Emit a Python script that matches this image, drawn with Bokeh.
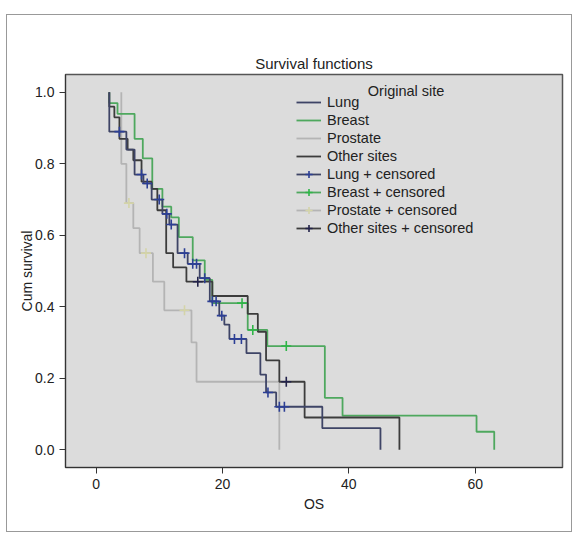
import numpy as np
from bokeh.plotting import figure
from bokeh.models import Range1d, FixedTicker, Legend, LegendItem, Label, PrintfTickFormatter
from bokeh.embed import file_html
from bokeh.resources import INLINE

FONT = "Liberation Sans"

title_text = "Survival functions"
legend_title = "Original site"
x_label = "OS"
y_label = "Cum survival"
groups = ["Lung", "Breast", "Prostate", "Other sites"]

# Kaplan-Meier step data (event times, survival after each event)
lung_t = [2.1, 4.8, 6.1, 7.5, 8.8, 10.5, 11.6, 12.9, 14.5, 16.4, 18.0, 19.5, 20.3, 21.1, 23.8, 26.0, 26.9, 28.5, 35.8, 45.0]
lung_s = [0.89, 0.84, 0.77, 0.745, 0.70, 0.66, 0.63, 0.55, 0.52, 0.48, 0.415, 0.375, 0.35, 0.31, 0.27, 0.21, 0.16, 0.12, 0.06, 0.0]
lung_ct = [3.7, 7.2, 8.1, 10.0, 11.2, 11.9, 14.0, 15.3, 15.9, 17.2, 18.4, 19.0, 19.9, 21.9, 23.0, 27.2, 29.0, 29.8]
lung_cs = [0.89, 0.77, 0.745, 0.70, 0.66, 0.63, 0.55, 0.52, 0.52, 0.48, 0.415, 0.415, 0.375, 0.31, 0.31, 0.16, 0.12, 0.12]

breast_t = [2.1, 3.4, 6.1, 7.4, 8.9, 10.5, 11.9, 13.1, 15.3, 17.2, 18.4, 24.0, 27.1, 36.2, 39.0, 60.2, 63.0]
breast_s = [0.97, 0.94, 0.87, 0.815, 0.73, 0.68, 0.65, 0.595, 0.53, 0.475, 0.41, 0.335, 0.29, 0.145, 0.095, 0.05, 0.0]
breast_ct = [23.1, 24.8, 30.1]
breast_cs = [0.41, 0.335, 0.29]

prostate_t = [4.0, 4.8, 5.9, 6.9, 9.0, 10.8, 15.1, 15.9, 29.0]
prostate_s = [0.80, 0.69, 0.62, 0.55, 0.47, 0.39, 0.30, 0.19, 0.0]
prostate_ct = [5.2, 7.9, 14.0]
prostate_cs = [0.69, 0.55, 0.39]

other_t = [2.1, 2.9, 3.7, 5.0, 5.9, 7.2, 8.8, 9.7, 11.1, 12.2, 14.3, 18.4, 24.0, 25.6, 26.9, 29.0, 33.0, 48.0]
other_s = [0.96, 0.93, 0.87, 0.84, 0.81, 0.75, 0.73, 0.67, 0.55, 0.51, 0.47, 0.43, 0.38, 0.33, 0.25, 0.19, 0.09, 0.0]
other_ct = [16.1, 30.1]
other_cs = [0.47, 0.19]

x_ticks = [0, 20, 40, 60]
y_ticks = [0.0, 0.2, 0.4, 0.6, 0.8, 1.0]


def km_path(times, surv, start=1.0):
    xs, ys = [], []
    prev = start
    for t, s in zip(times, surv):
        xs += [t, t]
        ys += [prev, s]
        prev = s
    return xs, ys


p = figure(width=566, height=518,
           x_range=Range1d(-4.83, 73.8), y_range=Range1d(-0.05, 1.05),
           output_backend="svg", toolbar_location=None,
           min_border_left=58, min_border_right=11, min_border_top=59, min_border_bottom=66,
           background_fill_color="#dcdcdc", border_fill_color="white")
p.styles = {"border": "1px solid #999999"}
p.margin = (14, 0, 0, 6)

p.title.text = title_text
p.title.align = "center"
p.title.text_font = FONT
p.title.text_font_size = "15px"
p.title.text_font_style = "normal"
p.title.text_color = "#222222"
p.title.standoff = 6

p.outline_line_color = "#555555"
p.outline_line_width = 1.5
p.xgrid.visible = False
p.ygrid.visible = False

for ax in (p.xaxis[0], p.yaxis[0]):
    ax.axis_line_color = "#333333"
    ax.major_tick_line_color = "#333333"
    ax.major_tick_out = 6
    ax.major_tick_in = 0
    ax.minor_tick_line_color = None
    ax.major_label_text_font = FONT
    ax.major_label_text_font_size = "14px"
    ax.major_label_text_color = "#222222"
    ax.axis_label_text_font = FONT
    ax.axis_label_text_font_size = "14px"
    ax.axis_label_text_font_style = "normal"
    ax.axis_label_text_color = "#222222"

p.xaxis.ticker = FixedTicker(ticks=x_ticks)
p.yaxis.ticker = FixedTicker(ticks=y_ticks)
p.yaxis.formatter = PrintfTickFormatter(format="%.1f")
p.xaxis.axis_label = x_label
p.yaxis.axis_label = y_label
p.xaxis.axis_label_standoff = 4
p.yaxis.axis_label_standoff = -3

series = {
    "Prostate": (prostate_t, prostate_s, prostate_ct, prostate_cs, "#b4b4b4", "#d4d4a8"),
    "Breast": (breast_t, breast_s, breast_ct, breast_cs, "#4ea85e", "#2fb548"),
    "Other sites": (other_t, other_s, other_ct, other_cs, "#3c3c3c", "#22224a"),
    "Lung": (lung_t, lung_s, lung_ct, lung_cs, "#3e4466", "#2c3f95"),
}

line_r, cens_r = {}, {}
for name in ["Prostate", "Breast", "Other sites", "Lung"]:
    t, s, ct, cs, lc, cc = series[name]
    xs, ys = km_path(t, s)
    line_r[name] = p.line(xs, ys, line_color=lc, line_width=1.8)
for name in ["Prostate", "Breast", "Other sites", "Lung"]:
    t, s, ct, cs, lc, cc = series[name]
    cens_r[name] = p.scatter(ct, cs, marker="cross", size=10, line_color=cc, line_width=1.6)

items = [LegendItem(label=g, renderers=[line_r[g]]) for g in groups]
items += [LegendItem(label=g + " + censored", renderers=[line_r[g], cens_r[g]]) for g in groups]

legend = Legend(items=items, location=(231, 230),
                glyph_width=25, glyph_height=18, label_height=18, spacing=0,
                padding=0, margin=0, label_standoff=6,
                label_text_font=FONT, label_text_font_size="14.5px", label_text_color="#222222",
                border_line_color=None, background_fill_alpha=0)
p.add_layout(legend)

p.add_layout(Label(x=43.0, y=1.005, text=legend_title, text_baseline="middle",
                   text_font=FONT, text_font_size="14.5px", text_color="#222222"))

open("out.html", "w").write(file_html(p, INLINE))
